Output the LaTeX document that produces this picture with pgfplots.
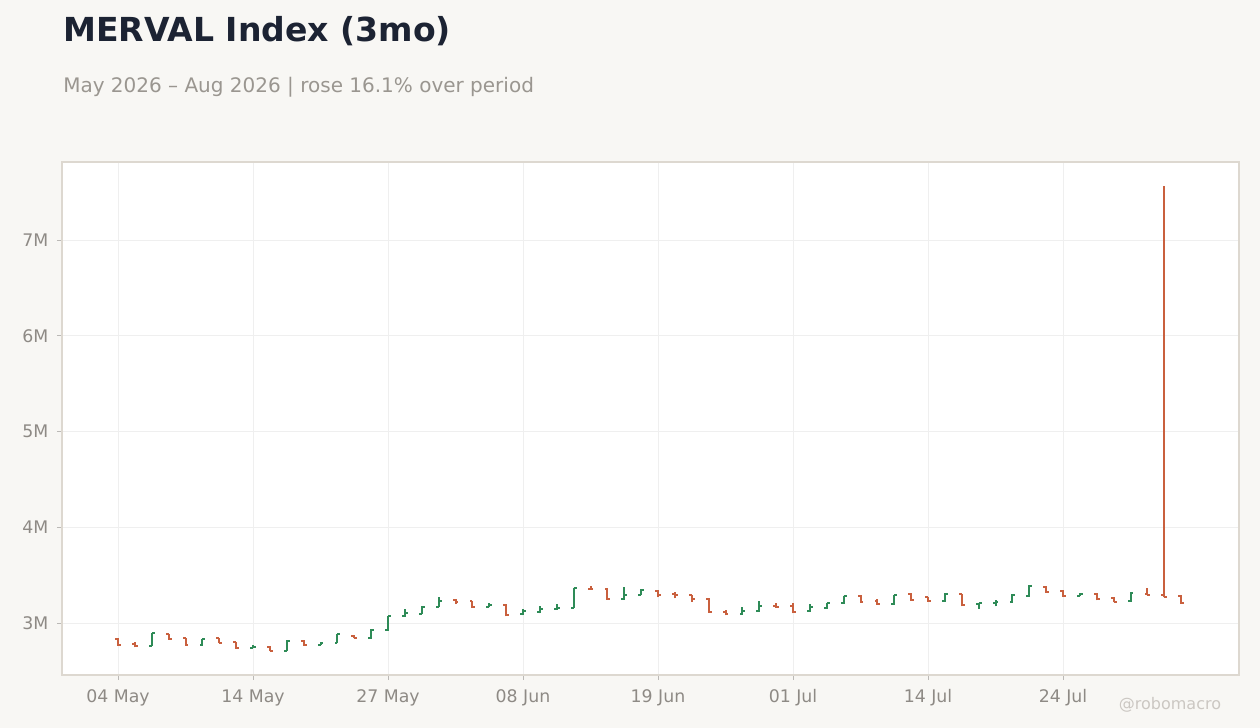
\documentclass[border=0pt]{standalone}
\usepackage{pgfplots}
\pgfplotsset{compat=1.18}
\usepackage{pgfplotstable}
\usepackage{fontspec}
\setmainfont{DejaVu Sans}
\definecolor{bg}{HTML}{F8F7F4}
\definecolor{upc}{HTML}{2E8B57}
\definecolor{dnc}{HTML}{C9603E}
\definecolor{titlec}{HTML}{1C2333}
\definecolor{subc}{HTML}{9A9690}
\definecolor{tickc}{HTML}{8E8A85}
\definecolor{framec}{HTML}{DDD8D0}
\definecolor{gridc}{HTML}{EFEFEF}
\definecolor{wmc}{HTML}{CBC7C2}

% x  open  high  low  close  (values in millions)
\pgfplotstableread{
x o h l c
2 2.763 2.895 2.760 2.892
5 2.770 2.835 2.765 2.833
8 2.742 2.767 2.738 2.753
10 2.711 2.820 2.706 2.815
12 2.770 2.800 2.766 2.794
13 2.794 2.885 2.790 2.882
15 2.840 2.935 2.835 2.930
16 2.927 3.077 2.920 3.073
17 3.073 3.143 3.066 3.101
18 3.094 3.175 3.090 3.170
19 3.170 3.268 3.165 3.233
22 3.167 3.205 3.163 3.185
24 3.091 3.143 3.080 3.128
25 3.118 3.174 3.101 3.150
26 3.150 3.198 3.140 3.157
27 3.160 3.370 3.155 3.362
30 3.251 3.373 3.245 3.296
31 3.296 3.350 3.290 3.341
37 3.094 3.167 3.087 3.125
38 3.125 3.226 3.115 3.181
41 3.128 3.198 3.120 3.164
42 3.157 3.210 3.150 3.205
43 3.205 3.285 3.200 3.279
46 3.198 3.295 3.190 3.289
49 3.226 3.310 3.220 3.299
51 3.195 3.210 3.150 3.205
52 3.205 3.237 3.174 3.222
53 3.219 3.300 3.212 3.292
54 3.282 3.397 3.275 3.386
57 3.285 3.313 3.278 3.306
60 3.229 3.324 3.222 3.310
}\upbars

\pgfplotstableread{
x o h l c
0 2.833 2.840 2.763 2.770
1 2.777 2.798 2.746 2.760
3 2.885 2.890 2.825 2.830
4 2.840 2.845 2.765 2.770
6 2.840 2.845 2.790 2.794
7 2.798 2.800 2.730 2.736
9 2.753 2.755 2.706 2.711
11 2.815 2.820 2.765 2.770
14 2.864 2.870 2.840 2.847
20 3.243 3.250 3.198 3.219
21 3.226 3.230 3.160 3.167
23 3.188 3.195 3.070 3.084
28 3.358 3.386 3.350 3.355
29 3.360 3.365 3.245 3.251
32 3.338 3.345 3.268 3.296
33 3.300 3.327 3.258 3.293
34 3.289 3.295 3.223 3.254
35 3.254 3.260 3.108 3.115
36 3.118 3.136 3.080 3.094
39 3.181 3.212 3.157 3.164
40 3.174 3.205 3.101 3.118
44 3.285 3.290 3.212 3.219
45 3.226 3.254 3.190 3.198
47 3.303 3.313 3.233 3.240
48 3.268 3.275 3.220 3.226
50 3.299 3.305 3.174 3.188
55 3.379 3.386 3.317 3.324
56 3.334 3.340 3.275 3.282
58 3.306 3.313 3.237 3.254
59 3.264 3.270 3.215 3.222
61 3.306 3.362 3.289 3.296
62 3.296 7.565 3.268 3.275
63 3.282 3.290 3.202 3.209
}\dnbars

\pgfplotsset{
  ohlc/.style={draw=none, mark=none, forget plot},
  hl/.style={error bars/.cd, y dir=plus, y explicit, error mark=none,
    error bar style={color=#1, line width=1.5pt}},
  op/.style={error bars/.cd, x dir=minus, x fixed=0.17, error mark=none,
    error bar style={color=#1, line width=1.5pt}},
  cl/.style={error bars/.cd, x dir=plus, x fixed=0.17, error mark=none,
    error bar style={color=#1, line width=1.5pt}},
}

\begin{document}
\begin{tikzpicture}
\useasboundingbox (0,0) rectangle (945pt,546pt);
\fill[bg] (0,0) rectangle (945pt,546pt);
\node[anchor=base west, inner sep=0, text=titlec, font=\fontsize{24.8}{30}\selectfont\bfseries] at (47.25pt,515pt) {MERVAL Index (3mo)};
\node[anchor=base west, inner sep=0, text=subc, font=\fontsize{15}{18}\selectfont] at (47.25pt,476.5pt) {May 2026 – Aug 2026 | rose 16.1\% over period};
\node[anchor=base, inner sep=0, text=wmc, font=\fontsize{12}{14}\selectfont] at (877.5pt,13.5pt) {@robomacro};
\begin{axis}[
  at={(46.5pt,39.75pt)}, anchor=south west,
  scale only axis, width=882.75pt, height=384.75pt,
  xmin=-3.319, xmax=66.43, ymin=2.457, ymax=7.815,
  axis background/.style={fill=white},
  axis line style={framec, line width=0.8pt},
  grid=major, major grid style={gridc, line width=0.6pt},
  tick align=outside, major tick length=3.75pt,
  tick style={color=tickc!60, line width=0.6pt},
  xtick pos=bottom, ytick pos=left,
  xtick={0,8,16,24,32,40,48,56},
  xticklabels={04 May,14 May,27 May,08 Jun,19 Jun,01 Jul,14 Jul,24 Jul},
  ytick={3,4,5,6,7},
  yticklabels={3M,4M,5M,6M,7M},
  xticklabel style={font=\fontsize{13}{15}\selectfont, text=tickc, yshift=-3.5pt},
  yticklabel style={font=\fontsize{13}{15}\selectfont, text=tickc, xshift=-3pt},
]
\addplot[ohlc, hl=upc] table[x=x, y=l, y error plus expr=\thisrow{h}-\thisrow{l}] {\upbars};
\addplot[ohlc, op=upc] table[x=x, y=o] {\upbars};
\addplot[ohlc, cl=upc] table[x=x, y=c] {\upbars};
\addplot[ohlc, hl=dnc] table[x=x, y=l, y error plus expr=\thisrow{h}-\thisrow{l}] {\dnbars};
\addplot[ohlc, op=dnc] table[x=x, y=o] {\dnbars};
\addplot[ohlc, cl=dnc] table[x=x, y=c] {\dnbars};
\end{axis}
\end{tikzpicture}
\end{document}
